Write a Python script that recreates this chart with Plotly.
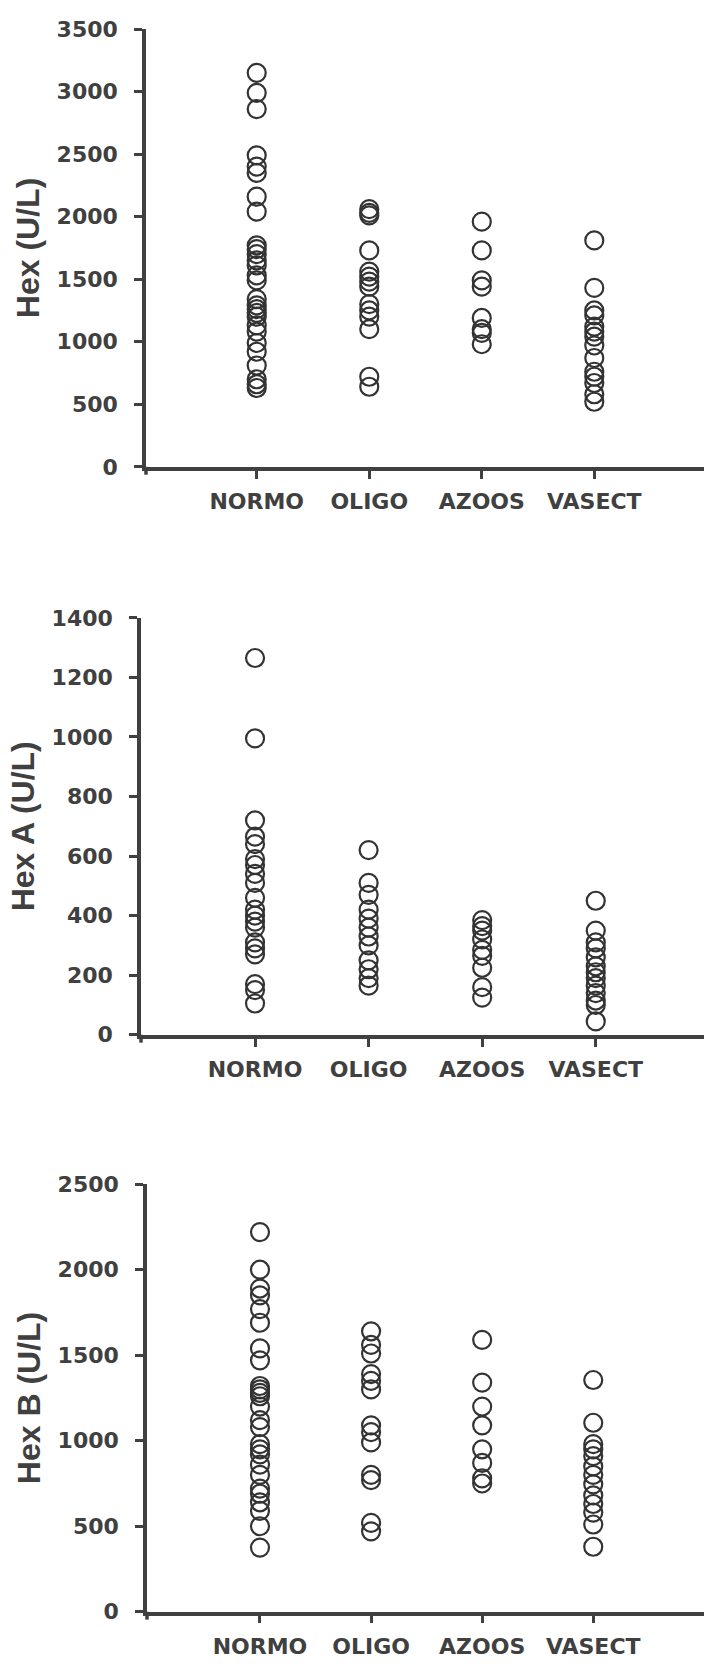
import plotly.graph_objects as go

# Group labels shared by all three panels
groups = ["NORMO", "OLIGO", "AZOOS", "VASECT"]

# Total hexosaminidase (U/L)
hex_normo = [3150, 2990, 2860, 2490, 2400, 2350, 2160, 2040, 1770, 1740, 1700,
             1650, 1610, 1530, 1490, 1340, 1290, 1260, 1230, 1200, 1130, 1080,
             990, 920, 810, 700, 660, 630]
hex_oligo = [2060, 2030, 2010, 1730, 1560, 1520, 1480, 1440, 1300, 1250, 1200,
             1100, 720, 640]
hex_azoos = [1960, 1730, 1490, 1440, 1190, 1100, 1070, 980]
hex_vasect = [1810, 1430, 1250, 1210, 1120, 1080, 1040, 970, 870, 760, 720,
              670, 580, 520]

# Hex A isoenzyme (U/L)
hexa_normo = [1265, 995, 720, 665, 640, 590, 570, 540, 510, 460, 420, 400, 380,
              360, 310, 290, 270, 170, 150, 105]
hexa_oligo = [620, 510, 470, 420, 390, 360, 330, 300, 250, 220, 190, 165]
hexa_azoos = [385, 365, 350, 320, 285, 265, 225, 160, 125]
hexa_vasect = [450, 350, 310, 290, 260, 230, 210, 190, 165, 140, 115, 100, 45]

# Hex B isoenzyme (U/L)
hexb_normo = [2220, 2000, 1890, 1850, 1770, 1690, 1540, 1470, 1320, 1300, 1280,
              1260, 1200, 1120, 1080, 980, 950, 920, 860, 800, 720, 690, 640,
              590, 500, 375]
hexb_oligo = [1640, 1560, 1510, 1390, 1350, 1300, 1090, 1050, 990, 800, 770,
              520, 470]
hexb_azoos = [1590, 1340, 1200, 1090, 950, 870, 780, 750]
hexb_vasect = [1355, 1105, 980, 950, 910, 850, 800, 745, 680, 630, 580, 510, 380]

panels = [
    dict(title="Hex (U/L)", series=[hex_normo, hex_oligo, hex_azoos, hex_vasect],
         yticks=[0, 500, 1000, 1500, 2000, 2500, 3000, 3500]),
    dict(title="Hex A (U/L)", series=[hexa_normo, hexa_oligo, hexa_azoos, hexa_vasect],
         yticks=[0, 200, 400, 600, 800, 1000, 1200, 1400]),
    dict(title="Hex B (U/L)", series=[hexb_normo, hexb_oligo, hexb_azoos, hexb_vasect],
         yticks=[0, 500, 1000, 1500, 2000, 2500]),
]

W, H = 704, 1673
# pixel frame of each panel: (left axis x, top y, bottom y, x-range)
frames = [
    (146, 17.3, 461.7, [-0.984, 3.975]),
    (141, 615.0, 1038.3, [-1.004, 3.953]),
    (147, 1190.0, 1624.0, [-1.017, 3.997]),
]

INK = "#404040"
TICK_FONT = dict(family="DejaVu Sans, sans-serif", size=22, color=INK, weight="bold")
TITLE_FONT = dict(family="Liberation Sans, Arial, sans-serif", size=32, color=INK, weight="bold")

fig = go.Figure()
layout = dict(width=W, height=H, margin=dict(l=0, r=0, t=0, b=0),
              paper_bgcolor="white", plot_bgcolor="rgba(0,0,0,0)", showlegend=False)
shapes = []

for k, (p, (lx, ty, by, xr)) in enumerate(zip(panels, frames), start=1):
    sfx = "" if k == 1 else str(k)
    for gi, vals in enumerate(p["series"]):
        fig.add_trace(go.Scatter(
            x=[gi] * len(vals), y=vals, mode="markers",
            xaxis="x" + sfx, yaxis="y" + sfx,
            marker=dict(symbol="circle-open", size=18, color="#333333",
                        line=dict(width=2.2, color="#333333")),
            hoverinfo="y", name=groups[gi]))
    ydom = [1 - by / H, 1 - ty / H]
    layout["xaxis" + sfx] = dict(
        domain=[lx / W, 1], range=xr, anchor="y" + sfx,
        tickvals=list(range(len(groups))), ticktext=groups,
        showline=True, linewidth=3.5, linecolor=INK,
        ticks="outside", ticklen=8, tickwidth=3, tickcolor=INK,
        tickfont=TICK_FONT, ticklabelstandoff=4,
        showgrid=False, zeroline=False, fixedrange=True)
    top = p["yticks"][-1]
    layout["yaxis" + sfx] = dict(
        domain=ydom, range=[0, top], anchor="x" + sfx,
        tickvals=p["yticks"], showline=True, linewidth=3.5, linecolor=INK,
        ticks="outside", ticklen=8, tickwidth=3, tickcolor=INK,
        tickfont=TICK_FONT, ticklabelstandoff=12,
        showgrid=False, zeroline=False, fixedrange=True,
        title=dict(text=p["title"], font=TITLE_FONT, standoff=8))
    # short stub of the vertical axis running past the baseline
    shapes.append(dict(type="line", xref="x" + sfx + " domain", yref="paper",
                       x0=0, x1=0, y0=ydom[0], y1=ydom[0] - 8 / H,
                       line=dict(color=INK, width=3.5)))

layout["shapes"] = shapes
fig.update_layout(**layout)
fig.write_html("out.html")
